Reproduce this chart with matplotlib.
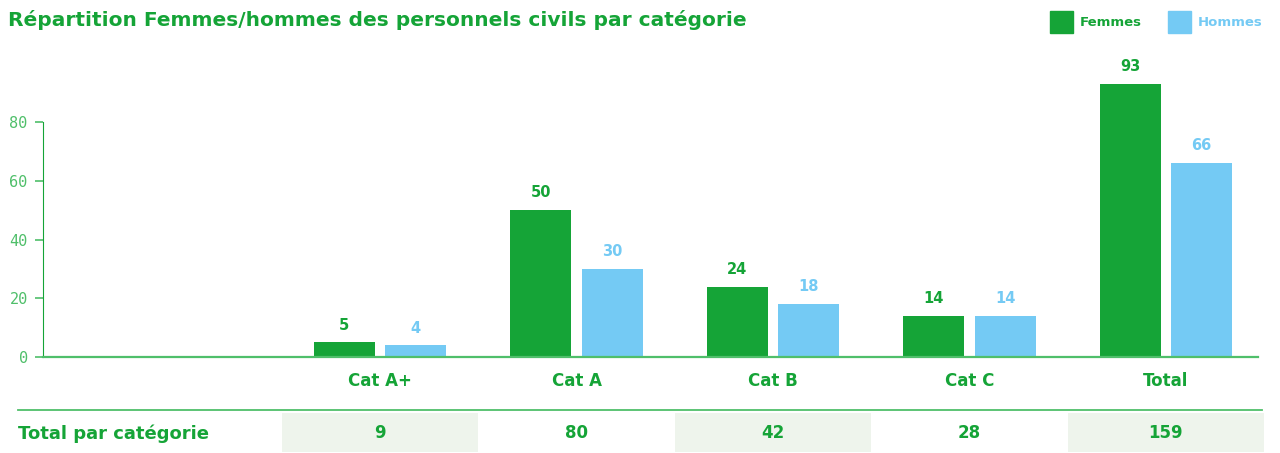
import matplotlib.pyplot as plt
import numpy as np

# data
categories = ["Cat A+", "Cat A", "Cat B", "Cat C", "Total"]
femmes = [5, 50, 24, 14, 93]
hommes = [4, 30, 18, 14, 66]
totaux = [9, 80, 42, 28, 159]
yticks = [0, 20, 40, 60, 80]

green = "#15a437"
blue = "#74caf4"
light_green = "#4fbf6a"
cell_bg = "#eef4ec"

W, H = 1280, 453
fig = plt.figure(figsize=(12.8, 4.53), dpi=100)

# main axes in pixel geometry
left, right = 43, 1258
bottom, ymax_px = 357, 63.25
ax = fig.add_axes([left / W, (H - bottom) / H, (right - left) / W, (bottom - ymax_px) / H])

x = np.arange(len(categories))
w = 0.31
off = 0.181
ax.bar(x - off, femmes, w, color=green)
ax.bar(x + off, hommes, w, color=blue)

for xi, f, h in zip(x, femmes, hommes):
    ax.annotate(str(f), (xi - off, f), xytext=(0, 7), textcoords="offset points",
                ha="center", va="bottom", color=green, fontsize=10.5, fontweight="bold")
    ax.annotate(str(h), (xi + off, h), xytext=(0, 7), textcoords="offset points",
                ha="center", va="bottom", color=blue, fontsize=10.5, fontweight="bold")

ax.set_xlim((left - 380) / 196.5, (right - 380) / 196.5)
ax.set_ylim(0, 100)
ax.set_yticks(yticks)
ax.set_yticklabels([str(t) for t in yticks], family="DejaVu Sans Mono",
                   color=light_green, fontsize=11)
ax.tick_params(axis="y", length=6, color=light_green, width=1.2, pad=5)
ax.set_xticks(x)
ax.set_xticklabels(categories, color=green, fontsize=12, fontweight="bold")
ax.tick_params(axis="x", length=0, pad=11)
for s in ["top", "right"]:
    ax.spines[s].set_visible(False)
ax.spines["left"].set_bounds(0, 80)
ax.spines["left"].set_color(green)
ax.spines["bottom"].set_color(light_green)
ax.spines["bottom"].set_linewidth(1.6)

# table row below
tab = fig.add_axes([left / W, (H - 452) / H, (right - left) / W, 39 / H], sharex=ax)
tab.set_ylim(0, 1)
tab.axis("off")
bg = [cell_bg if i % 2 == 0 else "white" for i in range(len(totaux))]
cells = tab.bar(x, 1, width=1.0, color=bg)
for c in cells:
    c.set_clip_on(False)
for xi, t in zip(x, totaux):
    tab.text(xi, 0.5, str(t), ha="center", va="center", color=green,
             fontsize=12, fontweight="bold")

fig.add_artist(plt.Line2D([18 / W, 1262 / W], [(H - 410) / H] * 2,
                          color=light_green, lw=1.3))
fig.text(18 / W, (H - 434) / H, "Total par catégorie", color=green,
         fontsize=13, fontweight="bold", va="center")

# title
fig.text(8 / W, (H - 20) / H, "Répartition Femmes/hommes des personnels civils par catégorie",
         color=green, fontsize=14.5, fontweight="bold", va="center")

# legend
fig.add_artist(plt.Rectangle((1050 / W, (H - 33) / H), 23 / W, 22 / H, color=green))
fig.text(1080 / W, (H - 22) / H, "Femmes", color=green, fontsize=9.5, fontweight="bold", va="center")
fig.add_artist(plt.Rectangle((1168 / W, (H - 33) / H), 23 / W, 22 / H, color=blue))
fig.text(1198 / W, (H - 22) / H, "Hommes", color=blue, fontsize=9.5, fontweight="bold", va="center")

fig.savefig("out.png", dpi=100)
